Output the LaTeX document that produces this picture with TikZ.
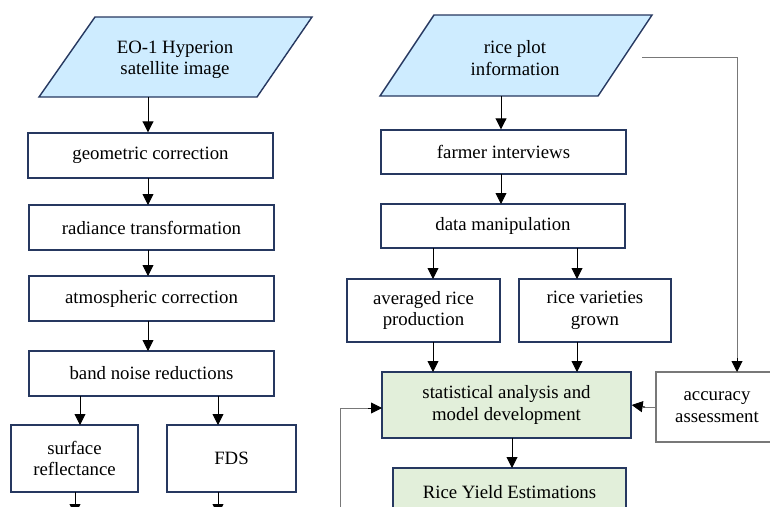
\documentclass[tikz,border=0pt]{standalone}
\usepackage{fontspec}
\setmainfont{Liberation Serif}
\usetikzlibrary{arrows.meta}
\definecolor{navy}{RGB}{38,56,96}
\definecolor{skyfill}{RGB}{206,236,255}
\definecolor{greenfill}{RGB}{226,239,218}
\definecolor{lgray}{RGB}{120,120,120}
\tikzset{
  box/.style={draw=navy, line width=1.4pt, fill=white, align=center, inner sep=0pt,
    font=\fontsize{18.8}{21.5}\selectfont},
  greenbox/.style={box, fill=greenfill},
  graybox/.style={box, draw=lgray},
  paratext/.style={align=center, inner sep=0pt, font=\fontsize{18.8}{21.5}\selectfont},
  parashape/.style={draw=navy, line width=1.4pt, fill=skyfill},
  arr/.style={-{Triangle[length=11pt,width=11pt]}, line width=0.9pt, black},
  gline/.style={line width=1pt, draw=lgray}
}
\begin{document}
\begin{tikzpicture}[x=1pt,y=-1pt]
\useasboundingbox (0,0) rectangle (770,506);
\clip (0,0) rectangle (770,506);
% parallelograms
\draw[parashape] (95,17) -- (312,17) -- (257,97) -- (39,97) -- cycle;
\node[paratext, minimum width=160, minimum height=80] (eo) at (148,57) {};
\node[paratext] (eotext) at (175,60) {EO-1 Hyperion\\satellite image};
\draw[parashape] (434,15) -- (652,15) -- (598,96) -- (380,96) -- cycle;
\node[paratext, minimum width=160, minimum height=81] (rp) at (501,55.5) {};
\node[paratext] (rptext) at (515,58) {rice plot\\information};
% left column
\node[box, minimum width=245, minimum height=45] (geo) at (150.5,155.5) {geometric correction};
\node[box, minimum width=245, minimum height=45] (rad) at (151.5,227.5) {radiance transformation};
\node[box, minimum width=245, minimum height=45] (atm) at (151.5,298.5) {atmospheric correction};
\node[box, minimum width=245, minimum height=45] (band) at (151.5,373.5) {band noise reductions};
\node[box, minimum width=127, minimum height=67] (surf) at (74.5,458.5) {surface\\reflectance};
\node[box, minimum width=129, minimum height=67] (fds) at (231.5,458.5) {FDS};
\coordinate (surfend) at (75,515);
\coordinate (fdsend) at (218,515);
% right column
\node[box, minimum width=245, minimum height=44] (farm) at (503.5,152) {farmer interviews};
\node[box, minimum width=244, minimum height=44] (data) at (503,226) {data manipulation};
\node[box, minimum width=153, minimum height=63] (avg) at (423.5,310.5) {averaged rice\\production};
\node[box, minimum width=152, minimum height=63] (var) at (595,310.5) {rice varieties\\grown};
\node[greenbox, minimum width=249, minimum height=66] (stat) at (506.5,405) {statistical analysis and\\model development};
\node[greenbox, minimum width=233, minimum height=48] (yield) at (509.5,492) {Rice Yield Estimations};
\node[graybox, minimum width=122, minimum height=70] (acc) at (717,407) {accuracy\\assessment};
\coordinate (rpr) at (642,57);
\coordinate (corner) at (737,57);
\coordinate (loopstart) at (340,515);
% arrows left
\draw[arr] (eo.south) -- (geo.north -| eo.south);
\draw[arr] (148,178) -- (148,205);
\draw[arr] (148,250) -- (148,276);
\draw[arr] (148,321) -- (148,351);
\draw[arr] (80,396) -- (80,425);
\draw[arr] (218,396) -- (218,425);
\draw[arr] (75,492) -- (surfend);
\draw[arr] (218,492) -- (fdsend);
% arrows right
\draw[arr] (rp.south) -- (farm.north -| rp.south);
\draw[arr] (501,174) -- (501,204);
\draw[arr] (433,248) -- (433,279);
\draw[arr] (577,248) -- (577,279);
\draw[arr] (433,342) -- (433,372);
\draw[arr] (577,342) -- (577,372);
\draw[arr] (512,438) -- (512,468);
\draw[gline] (rpr) -- (corner) -- (737,360);
\draw[arr] (737,358) -- (737,372);
\draw[gline] (acc.west) -- (643,407);
\draw[arr] (645,407) -- (stat.east);
\draw[gline] (loopstart) -- (340,408) -- (370,408);
\draw[arr] (368,408) -- (382,408);
\end{tikzpicture}
\end{document}
